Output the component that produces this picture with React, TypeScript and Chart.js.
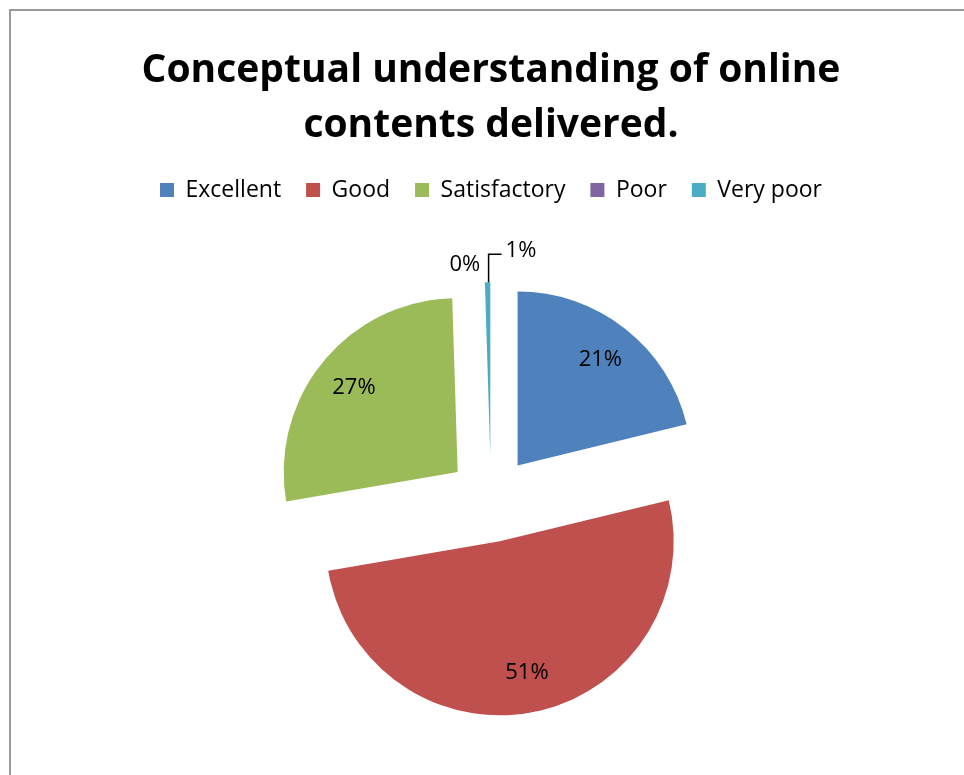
import React, { useEffect, useRef } from "react";
import { Chart, registerables } from "chart.js";

Chart.register(...registerables);

const titleLines = ["Conceptual understanding of online", "contents delivered."];
const categories = ["Excellent", "Good", "Satisfactory", "Poor", "Very poor"];
const values = [21.2, 51.1, 27.2, 0, 0.5];
const colors = ["#4F81BD", "#C0504D", "#9BBB59", "#8064A2", "#4BACC6"];

const EXPLODE = 43;
const RADIUS = 174;
const FONT = "'Open Sans', Lato, sans-serif";

const explodedPiePlugin = {
  id: "explodedPie",
  beforeDatasetsDraw(chart: any) {
    const ctx = chart.ctx;
    const meta = chart.getDatasetMeta(0);
    const total = values.reduce((a, b) => a + b, 0);
    const geo: any[] = [];
    meta.data.forEach((el: any, i: number) => {
      const { x, y, startAngle, endAngle, outerRadius } = el.getProps(
        ["x", "y", "startAngle", "endAngle", "outerRadius"],
        true
      );
      const mid = (startAngle + endAngle) / 2;
      const ax = x + Math.cos(mid) * EXPLODE;
      const ay = y + Math.sin(mid) * EXPLODE;
      geo.push({ ax, ay, mid, r: outerRadius });
      if (endAngle > startAngle) {
        ctx.save();
        ctx.beginPath();
        ctx.moveTo(ax, ay);
        ctx.arc(ax, ay, outerRadius, startAngle, endAngle);
        ctx.closePath();
        ctx.fillStyle = el.options.backgroundColor;
        ctx.fill();
        ctx.restore();
      }
    });
    ctx.save();
    ctx.font = `22px ${FONT}`;
    ctx.fillStyle = "#000";
    ctx.strokeStyle = "#000";
    ctx.textBaseline = "middle";
    geo.forEach((g, i) => {
      const pct = Math.round((values[i] / total) * 100);
      const text = `${pct}%`;
      if (pct >= 3) {
        const d = g.r * 0.77;
        ctx.textAlign = "center";
        ctx.fillText(text, g.ax + Math.cos(g.mid) * d, g.ay + Math.sin(g.mid) * d);
      } else {
        const ox = g.ax + Math.cos(g.mid) * g.r;
        const oy = g.ay + Math.sin(g.mid) * g.r;
        if (values[i] === 0) {
          ctx.textAlign = "right";
          ctx.fillText(text, ox - 4, oy - 18);
        } else {
          const lx = ox + 1;
          ctx.lineWidth = 1.5;
          ctx.beginPath();
          ctx.moveTo(lx, oy);
          ctx.lineTo(lx, oy - 28);
          ctx.lineTo(lx + 13, oy - 28);
          ctx.stroke();
          ctx.textAlign = "left";
          ctx.fillText(text, lx + 17, oy - 32);
        }
      }
    });
    ctx.restore();
    return false;
  },
};

export default function App() {
  const canvasRef = useRef<HTMLCanvasElement | null>(null);

  useEffect(() => {
    if (!canvasRef.current) return;
    const chart = new Chart(canvasRef.current, {
      type: "pie",
      data: {
        labels: categories,
        datasets: [
          {
            data: values,
            backgroundColor: colors,
            borderWidth: 0,
          },
        ],
      },
      options: {
        responsive: false,
        animation: false,
        radius: RADIUS,
        layout: { padding: { left: 18, right: 0, top: 0, bottom: 13 } },
        plugins: {
          title: {
            display: true,
            text: titleLines,
            color: "#000",
            font: { family: FONT, size: 39, weight: "bold", lineHeight: "55px" },
            padding: { top: 43, bottom: 0.5 },
          },
          legend: {
            display: true,
            position: "top",
            labels: {
              color: "#000",
              font: { family: FONT, size: 23 },
              boxWidth: 14,
              boxHeight: 14,
              padding: 25,
            },
          },
          tooltip: { enabled: false },
        },
      } as any,
      plugins: [explodedPiePlugin],
    });
    return () => chart.destroy();
  }, []);

  return (
    <div
      style={{
        position: "absolute",
        left: 0,
        top: 0,
        width: 964,
        height: 775,
        overflow: "hidden",
        background: "#fff",
      }}
    >
      <div
        style={{
          position: "absolute",
          left: 9,
          top: 9,
          width: 1000,
          height: 1000,
          border: "2px solid #9a9a9a",
          boxSizing: "border-box",
        }}
      />
      <canvas
        ref={canvasRef}
        width={964}
        height={800}
        style={{ position: "absolute", left: 0, top: 0, display: "block" }}
      />
    </div>
  );
}
